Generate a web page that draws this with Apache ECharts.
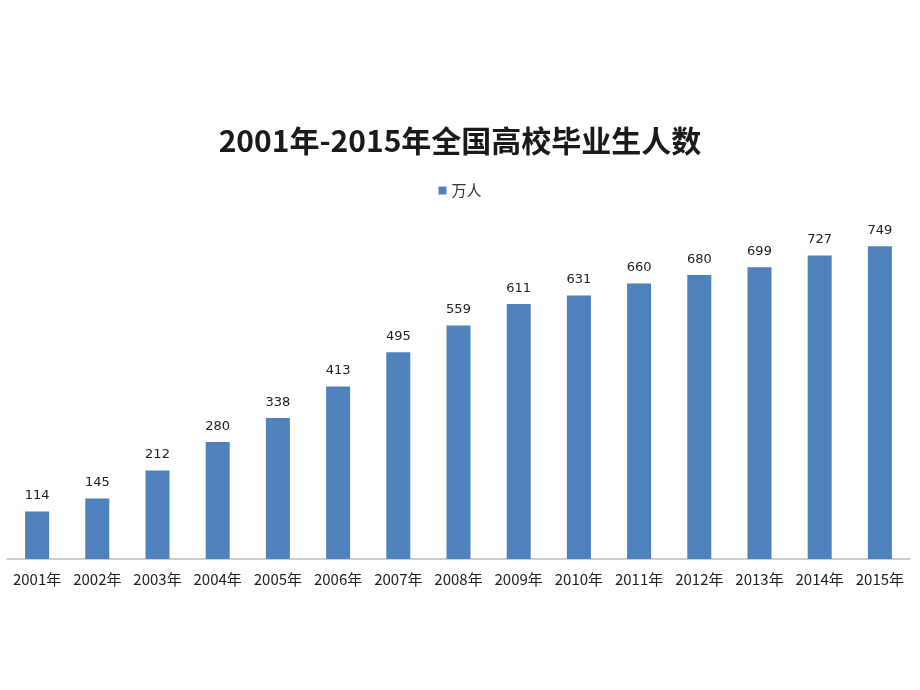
<!DOCTYPE html>
<html><head><meta charset="utf-8">
<script src="https://cdn.jsdelivr.net/npm/echarts@6/dist/echarts.min.js"></script>
<style>html,body{margin:0;padding:0;background:#fff}#c{width:920px;height:690px}</style>
</head><body><div id="c"></div>
<script>
const categories = ['2001年','2002年','2003年','2004年','2005年','2006年','2007年','2008年','2009年','2010年','2011年','2012年','2013年','2014年','2015年'];
const values = [114,145,212,280,338,413,495,559,611,631,660,680,699,727,749];
const seriesName = '万人';
const titleText = '2001年-2015年全国高校毕业生人数';

const chart = echarts.init(document.getElementById('c'));
chart.setOption({
  animation: false,
  backgroundColor: '#fff',
  title: {
    text: titleText, left: 'center', top: 121,
    textStyle: { fontFamily: 'Noto Sans CJK SC', fontSize: 30, fontWeight: 'bold', color: '#1a1a1a' }
  },
  legend: {
    data: [seriesName], top: 178, left: 'center', itemWidth: 8, itemHeight: 8, itemGap: 6,
    icon: 'rect',
    textStyle: { fontFamily: 'Noto Sans CJK SC', fontSize: 15, color: '#333' }
  },
  grid: { left: 7, right: 10, top: 225, bottom: 131 },
  xAxis: {
    type: 'category', data: categories,
    axisLine: { lineStyle: { color: '#bfbfbf', width: 1.5 } },
    axisTick: { show: false },
    axisLabel: { fontFamily: 'Noto Sans CJK SC', fontSize: 15, color: '#222', margin: 13, interval: 0 }
  },
  yAxis: { type: 'value', min: 0, max: 800, show: false, splitLine: { show: false } },
  series: [{
    name: seriesName, type: 'bar', data: values, barWidth: 24,
    itemStyle: { color: '#4F81BD' },
    label: { show: true, position: 'top', distance: 9, fontFamily: 'DejaVu Sans', fontSize: 13, color: '#222' }
  }]
});
</script></body></html>
